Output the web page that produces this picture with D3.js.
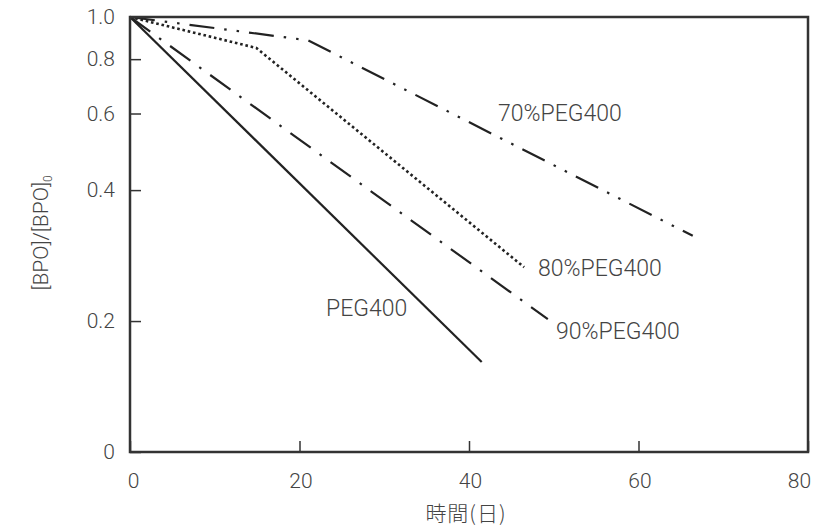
<!DOCTYPE html>
<html>
<head>
<meta charset="utf-8">
<script src="https://cdn.jsdelivr.net/npm/d3@7/dist/d3.min.js"></script>
<style>
  html, body { margin: 0; padding: 0; background: #fff; }
  svg { display: block; }
  text { font-family: Roboto, "Liberation Sans", "Noto Sans CJK JP", sans-serif; fill: #444; font-weight: 300; }
</style>
</head>
<body>
<svg id="chart" width="823" height="526"></svg>
<script>
// ---- data ----
const seriesNames = ["PEG400", "90%PEG400", "80%PEG400", "70%PEG400"];
const seriesDays = [
  [0, 41.5],
  [0, 49.3],
  [0, 14.9, 46.5],
  [0, 21.0, 66.4]
];
const seriesRatio = [
  [1.0, 0.161],
  [1.0, 0.202],
  [1.0, 0.849, 0.266],
  [1.0, 0.884, 0.314]
];
const xTickValues = [0, 20, 40, 60, 80];
const xTickLabels = ["0", "20", "40", "60", "80"];
const yTickValues = [0.1, 0.2, 0.4, 0.6, 0.8, 1.0];
const yTickLabels = ["0", "0.2", "0.4", "0.6", "0.8", "1.0"];
const xTitle = "時間(日)";
const yTitleMain = "[BPO]/[BPO]";
const yTitleSub = "0";

// ---- layout / style ----
const mLeft = 130, mRight = 808, mTop = 17, mBottom = 452;
const dashes = ["none", "25,11,2.5,11", "2.6,2.8", "25,10,2.5,10,2.5,10"];
const widths = [2.2, 2.2, 2.6, 2.2];
const labelPos = [[326, 315.5], [556, 339], [538, 276], [498, 121]];

const svg = d3.select("#chart");
const x = d3.scaleLinear().domain([0, 80]).range([mLeft, mRight]);
const y = d3.scaleLog().domain([0.1, 1]).range([mBottom, mTop]);

// lines
const line = d3.line().x(d => x(d[0])).y(d => y(d[1]));
seriesNames.forEach((name, i) => {
  const pts = seriesDays[i].map((d, j) => [d, seriesRatio[i][j]]);
  svg.append("path")
    .datum(pts)
    .attr("d", line)
    .attr("fill", "none")
    .attr("stroke", "#222")
    .attr("stroke-width", widths[i])
    .attr("stroke-dasharray", dashes[i]);
  svg.append("text")
    .attr("x", labelPos[i][0])
    .attr("y", labelPos[i][1])
    .attr("font-size", 23)
    .text(name);
});

// axes
const yAxis = d3.axisLeft(y)
  .tickValues(yTickValues)
  .tickFormat((d, i) => yTickLabels[i])
  .tickSize(-11)
  .tickPadding(15);
const gy = svg.append("g").attr("transform", `translate(${mLeft},0)`).call(yAxis);
gy.select(".domain").remove();
gy.selectAll("line").attr("stroke", "#333").attr("stroke-width", 1.5);
gy.selectAll("text").attr("font-size", 21).attr("fill", "#444")
  .style("font-family", 'Roboto, "Liberation Sans", sans-serif')
  .style("font-weight", 300);

const xAxis = d3.axisBottom(x)
  .tickValues(xTickValues)
  .tickFormat((d, i) => xTickLabels[i])
  .tickSize(-11)
  .tickPadding(21);
const gx = svg.append("g").attr("transform", `translate(0,${mBottom})`).call(xAxis);
gx.select(".domain").remove();
gx.selectAll("line").attr("stroke", "#333").attr("stroke-width", 1.5);
gx.selectAll("text").attr("font-size", 21).attr("fill", "#444")
  .style("font-family", 'Roboto, "Liberation Sans", sans-serif')
  .style("font-weight", 300)
  .attr("dx", (d, i) => i === 0 ? 3 : (i === xTickValues.length - 1 ? -9 : 1));

// frame
svg.append("rect")
  .attr("x", mLeft).attr("y", mTop)
  .attr("width", mRight - mLeft).attr("height", mBottom - mTop)
  .attr("fill", "none").attr("stroke", "#333").attr("stroke-width", 2.5);

// titles
svg.append("text")
  .attr("x", (mLeft + mRight) / 2 - 3)
  .attr("y", 521)
  .attr("text-anchor", "middle")
  .attr("font-size", 21)
  .attr("letter-spacing", 1)
  .style("font-family", '"Noto Sans CJK JP", sans-serif')
  .text(xTitle);

const yt = svg.append("text")
  .attr("transform", "translate(48,233) rotate(-90)")
  .attr("text-anchor", "middle")
  .attr("font-size", 21);
yt.append("tspan").text(yTitleMain);
yt.append("tspan").attr("font-size", 12).attr("dy", 4).text(yTitleSub);
</script>
</body>
</html>
